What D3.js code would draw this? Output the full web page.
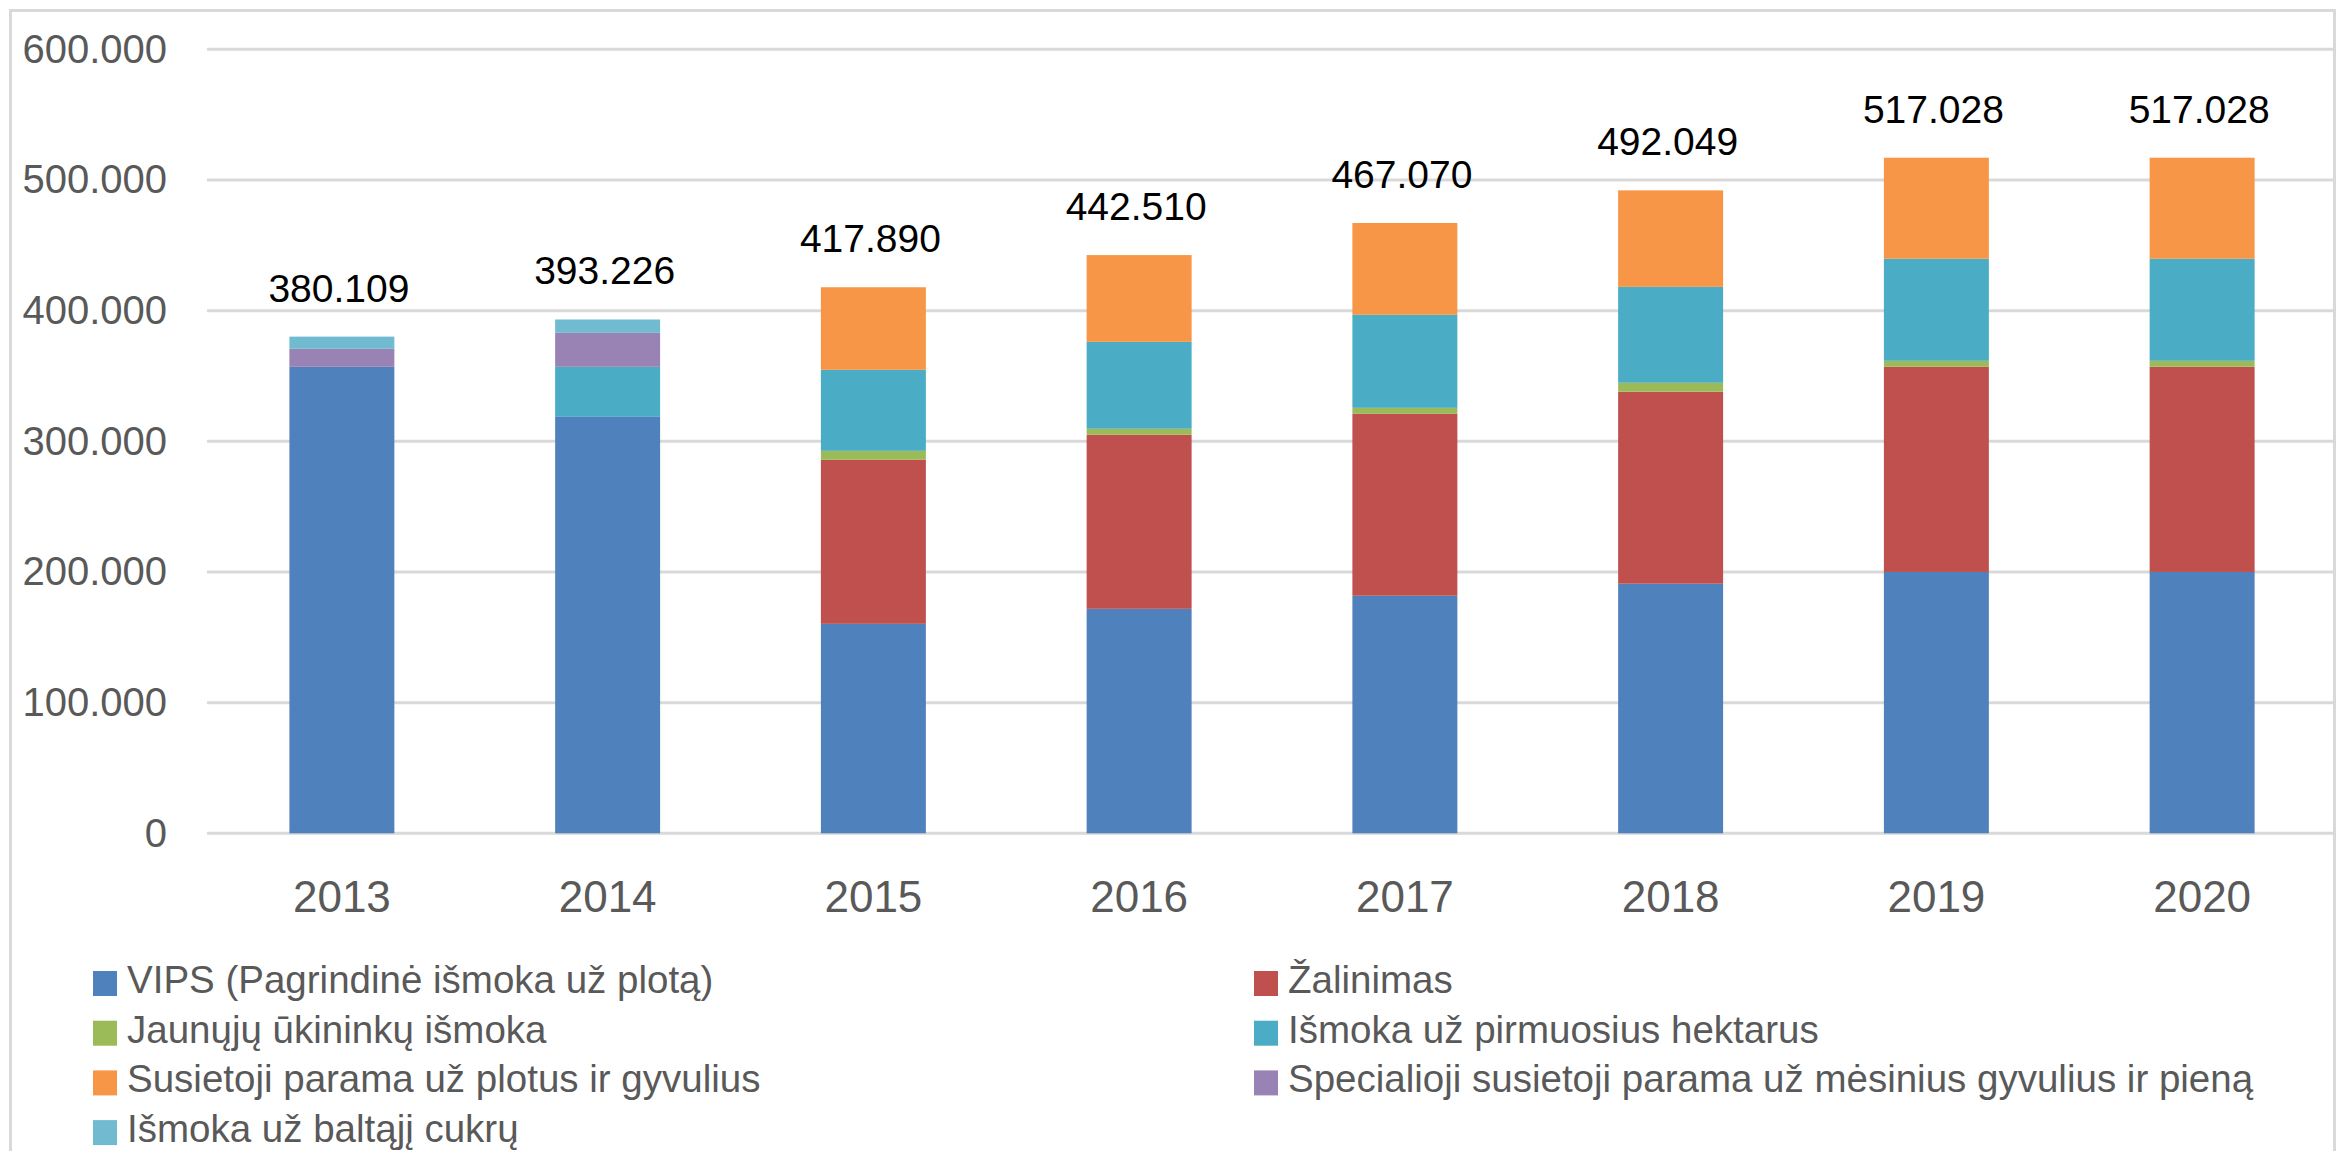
<!DOCTYPE html>
<html>
<head>
<meta charset="utf-8">
<script src="https://cdn.jsdelivr.net/npm/d3@7"></script>
<style>
    body { margin: 0; background: #ffffff; }
    text { font-family: "Liberation Sans", Arial, sans-serif; }
</style>
</head>
<body>
<svg width="2341" height="1151"></svg>
<script>
// years on the x axis
const years = ["2013", "2014", "2015", "2016", "2017", "2018", "2019", "2020"];

// series names, in stacking order (bottom to top)
const seriesNames = [
    "VIPS (Pagrindinė išmoka už plotą)",
    "Žalinimas",
    "Jaunųjų ūkininkų išmoka",
    "Išmoka už pirmuosius hektarus",
    "Susietoji parama už plotus ir gyvulius",
    "Specialioji susietoji parama už mėsinius gyvulius ir pieną",
    "Išmoka už baltąjį cukrų"
];
const seriesColors = ["#4f81bd", "#c0504d", "#9bbb59", "#4bacc6", "#f79646", "#9983b4", "#70bbcf"];

// values
const vips        = [357000, 318700, 160300, 171800, 181800, 191000, 200000, 200000];
const zalinimas   = [0, 0, 125500, 133200, 139200, 146900, 157000, 157000];
const jaunieji    = [0, 0, 6900, 4600, 4600, 6900, 4600, 4600];
const pirmieji    = [0, 38300, 62000, 66500, 71200, 73400, 78100, 78100];
const susietoji   = [0, 0, 63190, 66410, 70270, 73849, 77328, 77328];
const specialioji = [13800, 26000, 0, 0, 0, 0, 0, 0];
const cukrus      = [9309, 10226, 0, 0, 0, 0, 0, 0];

// totals printed above the bars
const totals = [380109, 393226, 417890, 442510, 467070, 492049, 517028, 517028];

const yTicks = [0, 100000, 200000, 300000, 400000, 500000, 600000];

const seriesValues = [vips, zalinimas, jaunieji, pirmieji, susietoji, specialioji, cukrus];

// table for d3.stack
const table = years.map((y, i) => {
    const row = { year: y };
    seriesNames.forEach((s, k) => { row[s] = seriesValues[k][i]; });
    return row;
});

const svg = d3.select("svg");

// lithuanian number format: "." as thousands separator
const lt = d3.formatLocale({ decimal: ",", thousands: ".", grouping: [3], currency: ["", " €"] });
const fmt = lt.format(",d");

const x = d3.scaleBand()
    .domain(years)
    .range([209, 2335])
    .paddingInner(0.605)
    .paddingOuter(0.3025);

const y = d3.scaleLinear()
    .domain([0, 600000])
    .range([833.3, 49.3]);

// chart border
svg.append("rect")
    .attr("x", 10.5)
    .attr("y", 10.5)
    .attr("width", 2324)
    .attr("height", 1160)
    .attr("fill", "none")
    .attr("stroke", "#d9d9d9")
    .attr("stroke-width", 3);

// gridlines
svg.append("g")
    .selectAll("line")
    .data(yTicks)
    .join("line")
    .attr("x1", 207)
    .attr("x2", 2333)
    .attr("y1", d => y(d))
    .attr("y2", d => y(d))
    .attr("stroke", "#d9d9d9")
    .attr("stroke-width", 3);

// y axis labels
const yAxis = svg.append("g")
    .attr("transform", "translate(167,0)")
    .call(d3.axisLeft(y).tickValues(yTicks).tickSize(0).tickPadding(0).tickFormat(d => fmt(d)));
yAxis.select(".domain").remove();
yAxis.selectAll("text")
    .attr("fill", "#595959")
    .style("font-size", "40px")
    .style("font-family", "'Liberation Sans', Arial, sans-serif");

// x axis labels
const xAxis = svg.append("g")
    .attr("transform", "translate(0,833.3)")
    .call(d3.axisBottom(x).tickSize(0).tickPadding(0));
xAxis.select(".domain").remove();
xAxis.selectAll("text")
    .attr("y", 79)
    .attr("dy", 0)
    .attr("fill", "#595959")
    .style("font-size", "44px")
    .style("font-family", "'Liberation Sans', Arial, sans-serif");

// stacked bars
const stacked = d3.stack().keys(seriesNames)(table);

svg.append("g")
    .selectAll("g")
    .data(stacked)
    .join("g")
    .attr("fill", (d, i) => seriesColors[i])
    .selectAll("rect")
    .data(d => d)
    .join("rect")
    .attr("x", d => x(d.data.year))
    .attr("width", x.bandwidth())
    .attr("y", d => y(d[1]))
    .attr("height", d => y(d[0]) - y(d[1]));

// total labels above the bars
svg.append("g")
    .selectAll("text")
    .data(years)
    .join("text")
    .attr("x", d => x(d) + x.bandwidth() / 2 - 3)
    .attr("y", (d, i) => y(totals[i]) - 35)
    .attr("text-anchor", "middle")
    .attr("fill", "#000000")
    .style("font-size", "39px")
    .text((d, i) => fmt(totals[i]));

// legend, two columns
const legend = svg.append("g")
    .selectAll("g")
    .data(seriesNames)
    .join("g")
    .attr("transform", (d, i) => {
        const col = i % 2;
        const row = Math.floor(i / 2);
        return "translate(" + (col === 0 ? 93 : 1254) + "," + (971 + row * 49.7) + ")";
    });

legend.append("rect")
    .attr("width", 24)
    .attr("height", 25)
    .attr("fill", (d, i) => seriesColors[i]);

legend.append("text")
    .attr("x", 34)
    .attr("y", 22)
    .attr("fill", "#595959")
    .style("font-size", "38.5px")
    .text(d => d);
</script>
</body>
</html>
